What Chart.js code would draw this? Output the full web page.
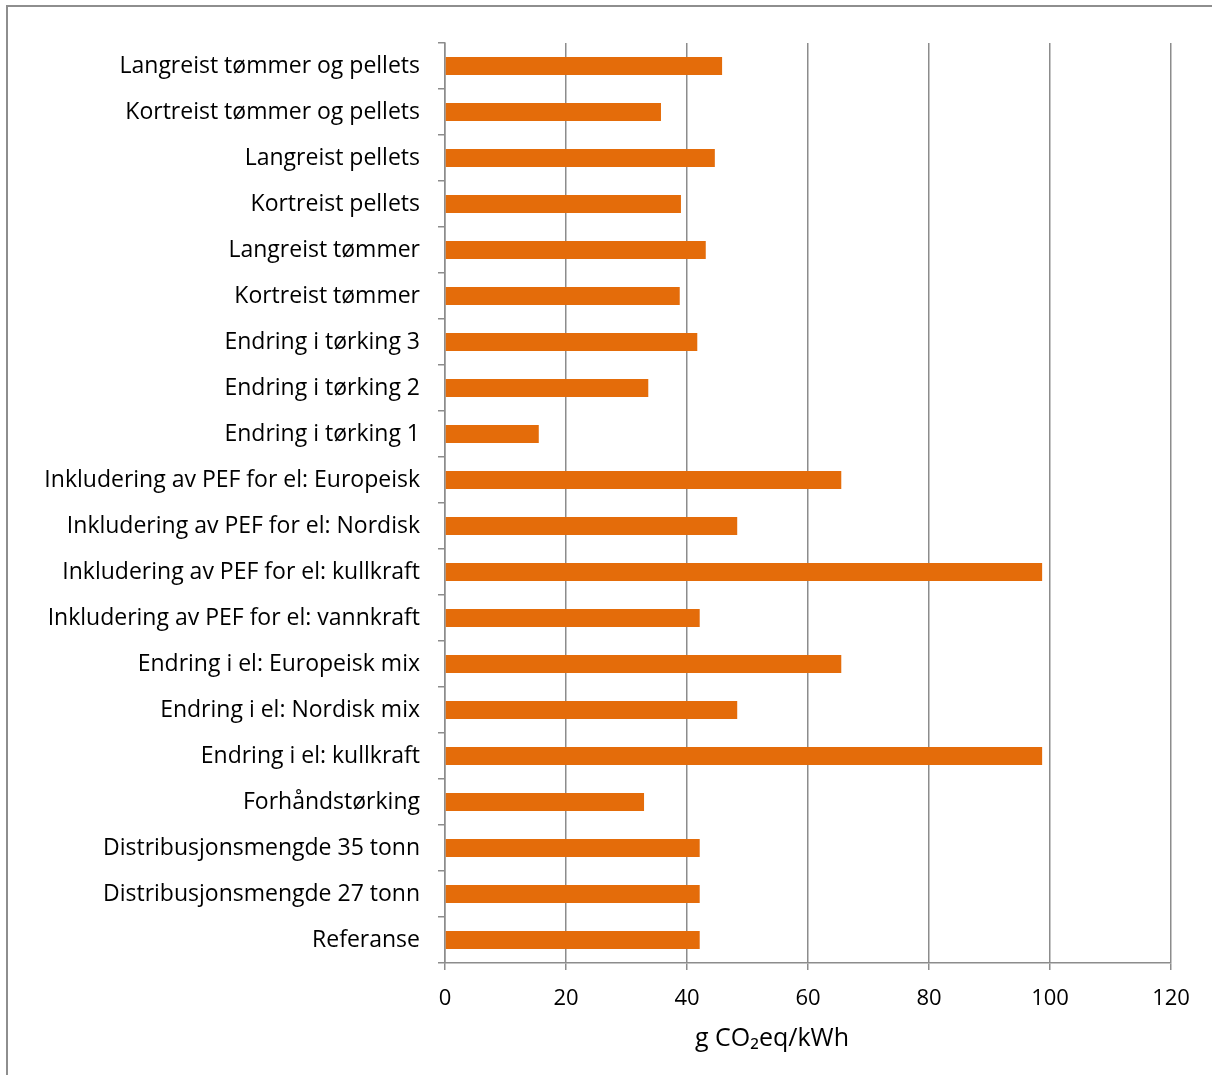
<!DOCTYPE html>
<html>
<head>
<meta charset="utf-8">
<script src="https://cdn.jsdelivr.net/npm/chart.js@4/dist/chart.umd.min.js"></script>
<style>
  html, body { margin: 0; padding: 0; background: #fff; }
  canvas { display: block; }
</style>
</head>
<body>
<canvas id="co2-chart" width="1212" height="1075"></canvas>
<script>
// Scenarioer (nederst til øverst i figuren)
const scenarios = [
    'Referanse',
    'Distribusjonsmengde 27 tonn',
    'Distribusjonsmengde 35 tonn',
    'Forhåndstørking',
    'Endring i el: kullkraft',
    'Endring i el: Nordisk mix',
    'Endring i el: Europeisk mix',
    'Inkludering av PEF for el: vannkraft',
    'Inkludering av PEF for el: kullkraft',
    'Inkludering av PEF for el: Nordisk',
    'Inkludering av PEF for el: Europeisk',
    'Endring i tørking 1',
    'Endring i tørking 2',
    'Endring i tørking 3',
    'Kortreist tømmer',
    'Langreist tømmer',
    'Kortreist pellets',
    'Langreist pellets',
    'Kortreist tømmer og pellets',
    'Langreist tømmer og pellets'
];

// g CO2eq per kWh
const emissions = [
    42.1, 42.1, 42.1, 32.9, 98.7, 48.3, 65.5, 42.1, 98.7, 48.3,
    65.5, 15.5, 33.6, 41.7, 38.8, 43.1, 39.0, 44.6, 35.7, 45.8
];

const xTicks = [0, 20, 40, 60, 80, 100, 120];
const xTitle = 'g CO₂eq/kWh';

const FONT = '"Open Sans", "DejaVu Sans", sans-serif';
const AXIS_GREY = '#8c8c8c';

// ramme rundt hele figuren + aksetittel
const framePlugin = {
    id: 'frame',
    beforeDraw(chart) {
        const c = chart.ctx;
        c.save();
        c.strokeStyle = '#8e8e8e';
        c.lineWidth = 2;
        c.strokeRect(7, 6, chart.width + 20, chart.height + 20);
        c.restore();
    },
    afterDraw(chart) {
        const c = chart.ctx;
        c.save();
        c.fillStyle = '#000';
        c.font = '25px ' + FONT;
        c.textAlign = 'center';
        c.textBaseline = 'middle';
        c.fillText(xTitle, 772, 1039);
        c.restore();
    }
};

const ctx = document.getElementById('co2-chart').getContext('2d');
const co2Chart = new Chart(ctx, {
    type: 'bar',
    data: {
        labels: scenarios,
        datasets: [{
            data: emissions,
            backgroundColor: '#e46c0a',
            borderWidth: 0,
            categoryPercentage: 1,
            barPercentage: 0.39
        }]
    },
    options: {
        indexAxis: 'y',
        responsive: false,
        maintainAspectRatio: false,
        animation: false,
        layout: { padding: { top: 43, right: 41, left: 0, bottom: 0 } },
        plugins: {
            legend: { display: false },
            tooltip: { enabled: false }
        },
        scales: {
            x: {
                min: 0,
                max: 120,
                afterBuildTicks: (scale) => { scale.ticks = xTicks.map(v => ({ value: v })); },
                grid: {
                    color: AXIS_GREY,
                    lineWidth: 1.5,
                    drawTicks: true,
                    tickLength: 7,
                    tickColor: AXIS_GREY
                },
                border: { display: true, color: AXIS_GREY, width: 1.5 },
                ticks: {
                    color: '#000',
                    font: { family: FONT, size: 22 },
                    padding: 16,
                    maxRotation: 0
                },
                afterFit: (scale) => { scale.height = 112; }
            },
            y: {
                reverse: true,
                grid: {
                    offset: true,
                    drawOnChartArea: false,
                    drawTicks: true,
                    tickLength: 7,
                    tickColor: AXIS_GREY,
                    lineWidth: 1.5
                },
                border: { display: true, color: AXIS_GREY, width: 1.5 },
                ticks: {
                    color: '#000',
                    font: { family: FONT, size: 23 },
                    padding: 18,
                    autoSkip: false
                },
                afterFit: (scale) => { scale.width = 445; }
            }
        }
    },
    plugins: [framePlugin]
});
</script>
</body>
</html>
